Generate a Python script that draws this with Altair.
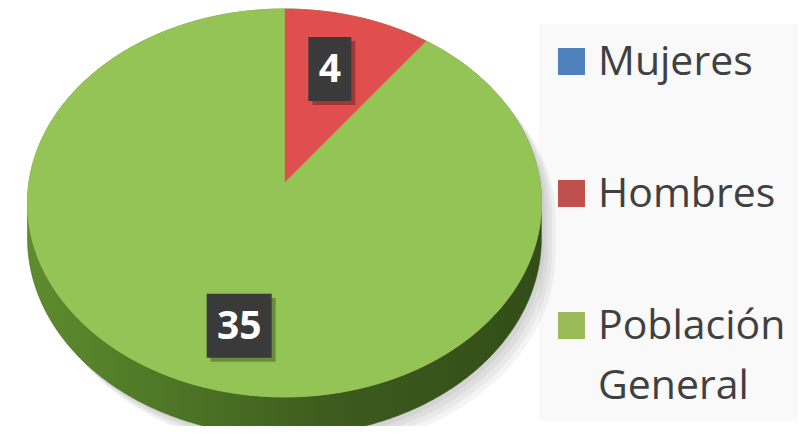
import numpy as np
import pandas as pd
import altair as alt

# ---------------- data ----------------
categories = ["Mujeres", "Hombres", "Población General"]
values = [0, 4, 35]
legend_colors = ["#4F81BD", "#C0504D", "#9BBB59"]
slice_colors = ["#4F81BD", "#E04E4E", "#94C455"]

# ---------------- layout / style constants (page pixels) ----------------
W, H = 790, 418
U0, V0 = 284.5, 183.0      # projected centre of the pie's top face
A, B = 255.6, 191.9        # horizontal / vertical radius factors
K = 0.103                  # perspective strength
D = 35.0                   # thickness of the pie
LABEL_RU, LABEL_RV = 0.56, 0.70
FONT = "Open Sans"


def rim(t_deg, z=0.0, r=1.0):
    t = np.radians(np.asarray(t_deg, dtype=float))
    X = r * np.sin(t)
    Y = -r * np.cos(t)
    s = 1.0 / (1.0 - K * Y)
    return U0 + A * X * s, V0 + (B * Y + D * z) * s


def hull(points):
    pts = sorted(set((round(p[0], 3), round(p[1], 3)) for p in points))

    def cross(o, a, b):
        return (a[0] - o[0]) * (b[1] - o[1]) - (a[1] - o[1]) * (b[0] - o[0])

    lower, upper = [], []
    for p in pts:
        while len(lower) >= 2 and cross(lower[-2], lower[-1], p) <= 0:
            lower.pop()
        lower.append(p)
    for p in reversed(pts):
        while len(upper) >= 2 and cross(upper[-2], upper[-1], p) <= 0:
            upper.pop()
        upper.append(p)
    return lower[:-1] + upper[:-1]


full = np.linspace(0, 360, 721)[:-1]
tu, tv = rim(full, 0)
bu, bv = rim(full, 1)
hp = hull(list(zip(tu, tv)) + list(zip(bu, bv)))
side_df = pd.DataFrame({"u": [p[0] for p in hp], "v": [p[1] for p in hp], "i": range(len(hp))})

shadow_rows = []
for k in range(1, 5):
    for j, p in enumerate(hp):
        shadow_rows.append({"g": k, "u": p[0] + 3.5 * k, "v": p[1] + 4.0 * k, "i": j})
shadow_df = pd.DataFrame(shadow_rows)

top_df = pd.DataFrame({"u": tu, "v": tv, "i": range(len(tu))})

# ellipse box of the top face (for label placement)
EC_V = (tv.min() + tv.max()) / 2
RY = (tv.max() - tv.min()) / 2

total = float(sum(values))
rows, lab_rows = [], []
start = 0.0
for cat, val in zip(categories, values):
    if val <= 0:
        continue
    sweep = 360.0 * val / total
    ang = np.linspace(start, start + sweep, max(4, int(sweep * 2)))
    su, sv = rim(ang)
    pts = [(U0, V0)] + list(zip(su, sv))
    for j, (a, b) in enumerate(pts):
        rows.append({"category": cat, "u": a, "v": b, "i": j})
    mid = start + sweep / 2
    lu = U0 + LABEL_RU * A * np.sin(np.radians(mid))
    _, pv = rim([mid], 0, LABEL_RV)
    ev = EC_V - RY * LABEL_RV * np.cos(np.radians(mid))
    lv = (pv[0] + ev) / 2
    txt = str(val)
    bw = 21 + 22 * len(txt)
    bh = 64
    lab_rows.append({"label": txt, "u": lu, "v": lv,
                     "l": lu - bw / 2, "r": lu + bw / 2,
                     "t": lv - bh / 2, "b": lv + bh / 2})
    start += sweep
slice_df = pd.DataFrame(rows)
lab_df = pd.DataFrame(lab_rows)
shadow_box_df = lab_df.assign(l=lab_df.l + 4, r=lab_df.r + 4, t=lab_df.t + 4, b=lab_df.b + 4)

LEG_U, LEG_V0, LEG_STEP = 571.5, 61.5, 132.0
leg_df = pd.DataFrame({
    "category": categories,
    "u": [LEG_U] * len(categories),
    "v": [LEG_V0 + LEG_STEP * i for i in range(len(categories))],
})
leg_df["tu"] = leg_df.u + 26.5
leg_df["tv"] = leg_df.v + 13.5

# ---------------- encodings ----------------
xs = alt.Scale(domain=[8, 8 + W], nice=False, zero=False)
ys = alt.Scale(domain=[8, 8 + H], nice=False, zero=False, reverse=True)
X = alt.X("u:Q", scale=xs, axis=None)
Y = alt.Y("v:Q", scale=ys, axis=None)

legend_bg = alt.Chart(pd.DataFrame({"a": [0]})).mark_rect(color="#F9F9F9").encode(
    x=alt.value(531), x2=alt.value(800), y=alt.value(16), y2=alt.value(413)
)

shadow = alt.Chart(shadow_df).mark_line(
    interpolate="linear-closed", fill="#000000", fillOpacity=0.045, strokeWidth=0
).encode(x=X, y=Y, order="i:Q", detail="g:N")

side_grad = alt.Gradient(
    gradient="linear",
    stops=[
        alt.GradientStop(color="#5E8C2E", offset=0),
        alt.GradientStop(color="#4C7425", offset=0.3),
        alt.GradientStop(color="#3C5B1D", offset=0.6),
        alt.GradientStop(color="#324D18", offset=1),
    ],
    x1=0, x2=1, y1=0, y2=0,
)
side = alt.Chart(side_df).mark_line(
    interpolate="linear-closed", fill=side_grad, stroke="#3C5B1D", strokeWidth=0.5
).encode(x=X, y=Y, order="i:Q")

top_grad = alt.RadialGradient(
    gradient="radial",
    stops=[
        alt.GradientStop(color="#9CC75D", offset=0),
        alt.GradientStop(color="#92C252", offset=1),
    ],
    x1=0.45, y1=0.45, r1=0, x2=0.45, y2=0.45, r2=0.75,
)
top = alt.Chart(top_df).mark_line(
    interpolate="linear-closed", fill=top_grad, stroke="#92C252", strokeWidth=0.5
).encode(x=X, y=Y, order="i:Q")

slice_scale = alt.Scale(domain=categories, range=slice_colors)
slices = alt.Chart(slice_df).mark_line(interpolate="linear-closed", strokeWidth=0.6).encode(
    x=X, y=Y, order="i:Q", detail="category:N",
    fill=alt.Fill("category:N", scale=slice_scale, legend=None),
    stroke=alt.Stroke("category:N", scale=slice_scale, legend=None),
)

box_shadow = alt.Chart(shadow_box_df).mark_rect(color="#000000", opacity=0.28).encode(
    x=alt.X("l:Q", scale=xs, axis=None), x2="r:Q",
    y=alt.Y("t:Q", scale=ys, axis=None), y2="b:Q",
)
boxes = alt.Chart(lab_df).mark_rect(color="#3A3A3A").encode(
    x=alt.X("l:Q", scale=xs, axis=None), x2="r:Q",
    y=alt.Y("t:Q", scale=ys, axis=None), y2="b:Q",
)
label_text = alt.Chart(lab_df).mark_text(
    font=FONT, fontWeight="bold", fontSize=39, color="white",
    align="center", baseline="middle", dy=1,
).encode(x=X, y=Y, text="label:N")

leg_sq = alt.Chart(leg_df).mark_square(size=729, opacity=1).encode(
    x=X, y=Y,
    color=alt.Color("category:N", scale=alt.Scale(domain=categories, range=legend_colors), legend=None),
)
leg_txt = alt.Chart(leg_df).mark_text(
    font=FONT, fontSize=41, color="#404040", align="left", baseline="alphabetic",
    lineBreak=" ", lineHeight=60,
).encode(
    x=alt.X("tu:Q", scale=xs, axis=None), y=alt.Y("tv:Q", scale=ys, axis=None),
    text="category:N",
)

chart = alt.layer(
    legend_bg, shadow, side, top, slices, box_shadow, boxes, label_text, leg_sq, leg_txt
).resolve_scale(color="independent", fill="independent", stroke="independent").properties(
    width=W, height=H,
    autosize=alt.AutoSizeParams(type="none"),
    padding=0,
    background="white",
).configure_view(stroke=None)

chart.save("out.html", embed_options={"renderer": "svg", "actions": False})
